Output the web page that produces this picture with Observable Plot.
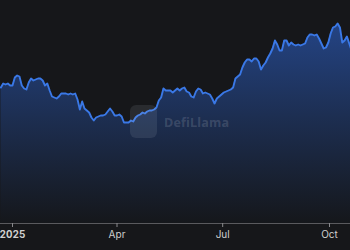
<!DOCTYPE html>
<html>
<head>
<meta charset="utf-8">
<script src="https://cdn.jsdelivr.net/npm/d3@7"></script>
<script src="https://cdn.jsdelivr.net/npm/@observablehq/plot@0.6"></script>
<style>
  html, body { margin: 0; padding: 0; background: #16171a; }
  #wrap { position: relative; width: 350px; height: 250px; overflow: hidden; }
  #logo { position: absolute; left: 130px; top: 105px; width: 27px; height: 33px; border-radius: 6px; background: rgba(200,205,215,0.11); }
  #wm { position: absolute; left: 164px; top: 114px; font: bold 12.5px "Open Sans", sans-serif; color: rgba(210,215,225,0.18); letter-spacing: 0.2px; }
</style>
</head>
<body>
<div id="wrap"><div id="chart"></div><div id="logo"></div><div id="wm">DefiLlama</div></div>
<script>
// Series: one value every 2 days starting at startDate (arbitrary units, no y axis shown)
const startDate = "2024-12-22";
const stepDays = 2;
const values = [
  13.6, 14.0, 13.9, 14.0, 13.8, 13.8, 14.6, 14.8, 14.7, 13.8,
  13.5, 13.4, 14.1, 14.5, 14.3, 14.4, 14.5, 14.5, 14.3, 13.8,
  14.0, 13.3, 12.7, 12.6, 12.5, 12.7, 13.0, 13.0, 13.0, 12.9,
  13.0, 12.9, 13.0, 12.4, 11.4, 12.2, 11.5, 11.3, 11.1, 10.6,
  10.3, 10.6, 10.7, 10.8, 10.8, 10.9, 11.2, 11.5, 11.2, 10.8,
  10.8, 10.9, 10.7, 10.1, 10.1, 10.1, 10.3, 10.2, 10.6, 10.8,
  10.9, 11.1, 11.0, 11.2, 11.3, 11.3, 11.4, 11.6, 12.3, 12.6,
  13.5, 13.3, 13.3, 13.3, 13.1, 13.3, 13.5, 13.3, 13.5, 13.6,
  13.2, 13.1, 12.7, 12.6, 13.2, 13.5, 13.4, 13.0, 13.1, 13.0,
  12.9, 12.5, 12.0, 12.5, 12.7, 12.9, 13.1, 13.2, 13.3, 13.4,
  13.6, 14.5, 14.7, 14.9, 15.6, 16.1, 16.4, 16.4, 16.2, 16.5,
  16.5, 16.2, 15.4, 15.8, 16.1, 16.6, 17.0, 17.5, 18.3, 17.9,
  17.3, 17.3, 18.3, 18.3, 17.8, 18.1, 17.9, 17.8, 17.9, 17.8,
  17.9, 18.0, 18.6, 18.9, 18.9, 18.8, 18.9, 18.5, 18.0, 17.5,
  17.6, 18.1, 19.0, 19.6, 19.7, 20.0, 19.6, 18.1, 18.3, 18.7,
  18.0, 17.3
];
const tickDates = ["2025-01-01", "2025-04-01", "2025-07-01", "2025-10-01"];
const tickLabels = ["2025", "Apr", "Jul", "Oct"];
const xDomain = ["2024-12-21T16:00:00Z", "2025-10-19T02:00:00Z"];
const yDomain = [0, 21.3];

const data = values.map((v, i) => ({
  date: d3.utcDay.offset(new Date(startDate + "T00:00:00Z"), stepDays * i),
  value: v
}));

const gradient = () => {
  const ns = "http://www.w3.org/2000/svg";
  const defs = document.createElementNS(ns, "defs");
  const lg = document.createElementNS(ns, "linearGradient");
  lg.setAttribute("id", "areaGrad");
  lg.setAttribute("gradientUnits", "userSpaceOnUse");
  lg.setAttribute("x1", "0"); lg.setAttribute("x2", "0");
  lg.setAttribute("y1", "10"); lg.setAttribute("y2", "223");
  [["0", "#25478c"], ["0.55", "#1c2c4c"], ["1", "#15171b"]].forEach(([o, c]) => {
    const s = document.createElementNS(ns, "stop");
    s.setAttribute("offset", o); s.setAttribute("stop-color", c);
    lg.appendChild(s);
  });
  defs.appendChild(lg);
  return defs;
};

const chart = Plot.plot({
  width: 350,
  height: 250,
  marginTop: 10,
  marginBottom: 27,
  marginLeft: 0,
  marginRight: 0,
  style: { background: "transparent", color: "#cfcfcf", fontFamily: "Inter, sans-serif", fontSize: "10px" },
  x: { type: "utc", domain: xDomain.map(d => new Date(d)) },
  y: { domain: yDomain, axis: null },
  marks: [
    gradient,
    Plot.areaY(data, { x: "date", y: "value", fill: "url(#areaGrad)", clip: true }),
    Plot.lineY(data, { x: "date", y: "value", stroke: "#3a78e6", strokeWidth: 1.9, clip: true }),
    Plot.ruleY([0], { stroke: "#5a5a5e", strokeWidth: 1 }),
    Plot.axisX({
      ticks: tickDates.map(d => new Date(d + "T00:00:00Z")),
      tickFormat: (d, i) => tickLabels[i],
      tickSize: 4,
      tickPadding: 3,
      stroke: "#8a8a8e",
      fill: "#cfcfcf"
    })
  ]
});
chart.querySelectorAll("text").forEach(t => {
  if (t.textContent === "2025") t.setAttribute("font-weight", "bold");
});
document.getElementById("chart").appendChild(chart);
</script>
</body>
</html>
